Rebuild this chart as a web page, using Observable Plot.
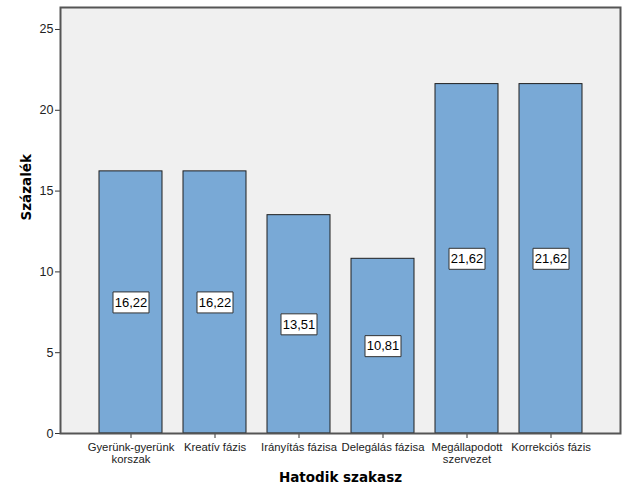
<!DOCTYPE html>
<html>
<head>
<meta charset="utf-8">
<script src="https://cdn.jsdelivr.net/npm/d3@7"></script>
<script src="https://cdn.jsdelivr.net/npm/@observablehq/plot@0.6"></script>
<style>
  body { margin: 0; background: #fff; }
  #chart svg { display: block; }
</style>
</head>
<body>
<div id="chart"></div>
<script>
const categories = ["Gyerünk-gyerünk\nkorszak", "Kreatív fázis", "Irányítás fázisa", "Delegálás fázisa", "Megállapodott\nszervezet", "Korrekciós fázis"];
const values = [16.22, 16.22, 13.51, 10.81, 21.62, 21.62];
const yTicks = [0, 5, 10, 15, 20, 25];
const xTitle = "Hatodik szakasz";
const yTitle = "Százalék";

const data = categories.map((c, i) => ({cat: c, val: values[i]}));
const fmt = v => v.toFixed(2).replace(".", ",");
const boxSymbol = { draw(ctx) { ctx.rect(-18, -10.5, 36, 21); } };

const chart = Plot.plot({
  width: 629,
  height: 504,
  marginLeft: 60,
  marginRight: 9,
  marginTop: 7,
  marginBottom: 71,
  style: { fontFamily: "Liberation Sans, Arial, sans-serif", color: "#222", background: "#fff" },
  x: { domain: categories, paddingInner: 0.25, paddingOuter: 0.45, label: null },
  y: { domain: [0, 26.36], label: null },
  marks: [
    Plot.frame({ fill: "#f0f0f0", stroke: "none" }),
    Plot.barY(data, { x: "cat", y: "val", fill: "#79a9d6", stroke: "#1e1e1e", strokeWidth: 1 }),
    Plot.dot(data, { x: "cat", y: d => d.val / 2, symbol: boxSymbol, r: 5, fill: "#fff", stroke: "#333", strokeWidth: 1 }),
    Plot.text(data, { x: "cat", y: d => d.val / 2, text: d => fmt(d.val), fontSize: 13, fill: "#000" }),
    Plot.axisY({ ticks: yTicks, tickSize: 5, tickPadding: 2, fontSize: 12.5, tickFormat: d => String(d), label: null, stroke: "#333" }),
    Plot.axisX({ tickSize: 5, tickPadding: 4, fontSize: 11.3, label: null, lineHeight: 1.05, stroke: "#333" }),
    Plot.frame({ stroke: "#555", strokeWidth: 2 }),
    Plot.text([yTitle], { frameAnchor: "left", dx: -34, rotate: -90, fontWeight: "bold", fontSize: 13.5, fontFamily: "DejaVu Sans", fill: "#000" }),
    Plot.text([xTitle], { frameAnchor: "bottom", dy: 48, fontWeight: "bold", fontSize: 13.5, fontFamily: "DejaVu Sans", fill: "#000" })
  ]
});
document.getElementById("chart").appendChild(chart);
</script>
</body>
</html>
